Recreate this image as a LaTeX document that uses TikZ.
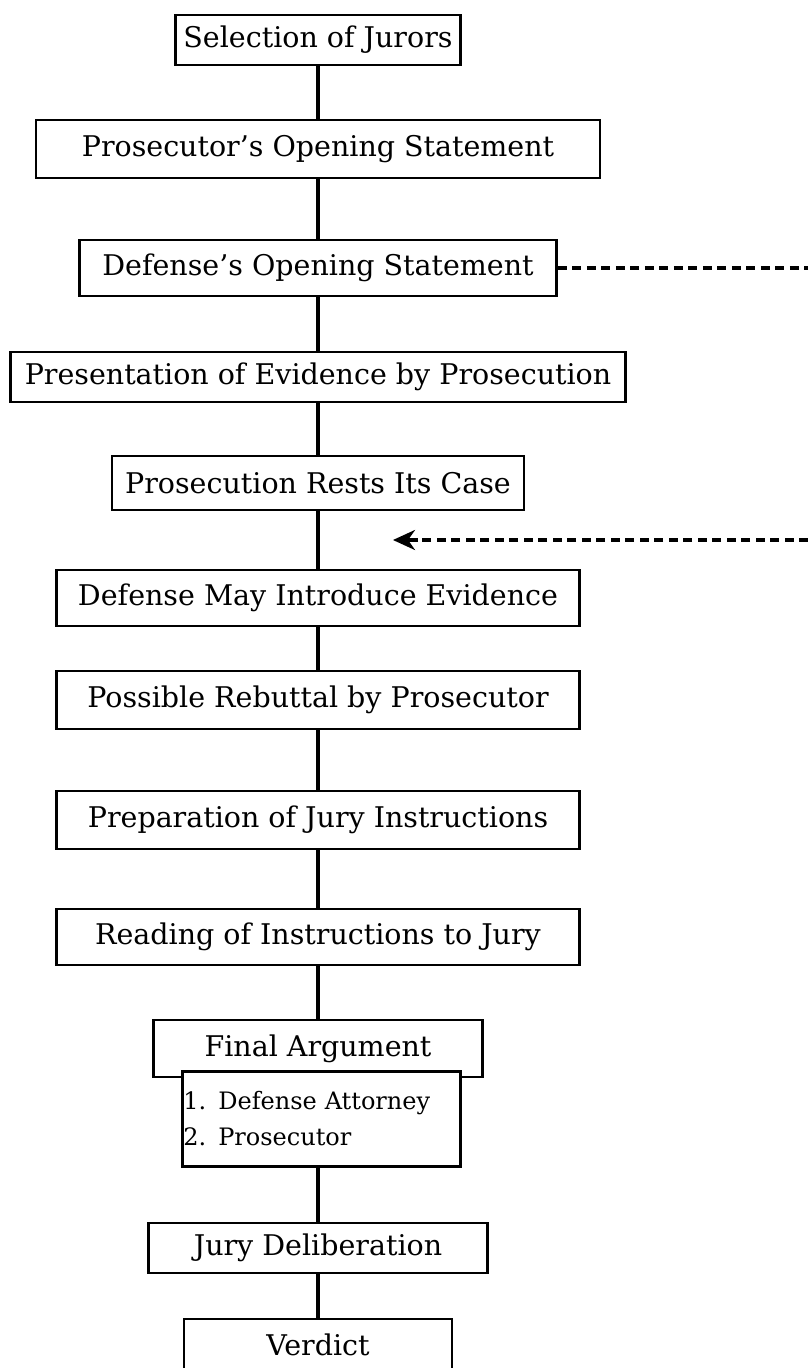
\documentclass[tikz,border=0pt]{standalone}
\usepackage{fontspec}
\setmainfont{DejaVu Serif}
\usetikzlibrary{arrows.meta}
\begin{document}
\begin{tikzpicture}[x=1pt,y=-1pt,
  box/.style={draw, line width=2.8pt, fill=white, inner sep=0pt, font=\fontsize{28.5}{32}\selectfont},
  conn/.style={line width=3.5pt},
  dashconn/.style={line width=3.5pt, dash pattern=on 9pt off 5.5pt},
  tipconn/.style={line width=3.5pt, -{Stealth[length=22pt,width=20pt,inset=7pt]}}]
\useasboundingbox (0,0) rectangle (808,1368);
\node[box, minimum width=285, minimum height=50] (sel) at (318,40) {Selection of Jurors};
\node[box, minimum width=564, minimum height=58] (pos) at (318,149) {Prosecutor’s Opening Statement};
\node[box, minimum width=477, minimum height=56] (dos) at (318,268) {Defense’s Opening Statement};
\node[box, minimum width=615, minimum height=50] (pep) at (318,377) {Presentation of Evidence by Prosecution};
\node[box, minimum width=412, minimum height=54] (prc) at (318,483) {Prosecution Rests Its Case};
\node[box, minimum width=523, minimum height=56] (dmi) at (318,598) {Defense May Introduce Evidence};
\node[box, minimum width=523, minimum height=58] (prp) at (318,700) {Possible Rebuttal by Prosecutor};
\node[box, minimum width=523, minimum height=58] (pji) at (318,820) {Preparation of Jury Instructions};
\node[box, minimum width=523, minimum height=56] (rij) at (318,937) {Reading of Instructions to Jury};
\node[box, minimum width=329, minimum height=57] (fa) at (318,1048.5) {Final Argument};
\node[box, minimum height=95, anchor=north west, text width=276pt, inner xsep=1pt, align=left, font=\fontsize{24}{36}\selectfont] (sub) at (181,1070) {1. Defense Attorney\\2. Prosecutor};
\node[box, minimum width=339, minimum height=50] (jd) at (318,1248) {Jury Deliberation};
\node[box, minimum width=268, minimum height=52] (ver) at (318,1345) {Verdict};
\coordinate (r1) at (808,268);
\coordinate (r2) at (808,540);
\coordinate (t2b) at (418,540);
\coordinate (t2) at (393,540);
\draw[conn] (sel) -- (pos);
\draw[conn] (pos) -- (dos);
\draw[conn] (dos) -- (pep);
\draw[conn] (pep) -- (prc);
\draw[conn] (prc) -- (dmi);
\draw[conn] (dmi) -- (prp);
\draw[conn] (prp) -- (pji);
\draw[conn] (pji) -- (rij);
\draw[conn] (rij) -- (fa);
\draw[conn] (jd.north |- sub.south) -- (jd.north);
\draw[conn] (jd) -- (ver);
\draw[dashconn] (dos.east) -- (r1);
\draw[dashconn] (r2) -- (t2b);
\draw[tipconn] (t2b) -- (t2);
\end{tikzpicture}
\end{document}
